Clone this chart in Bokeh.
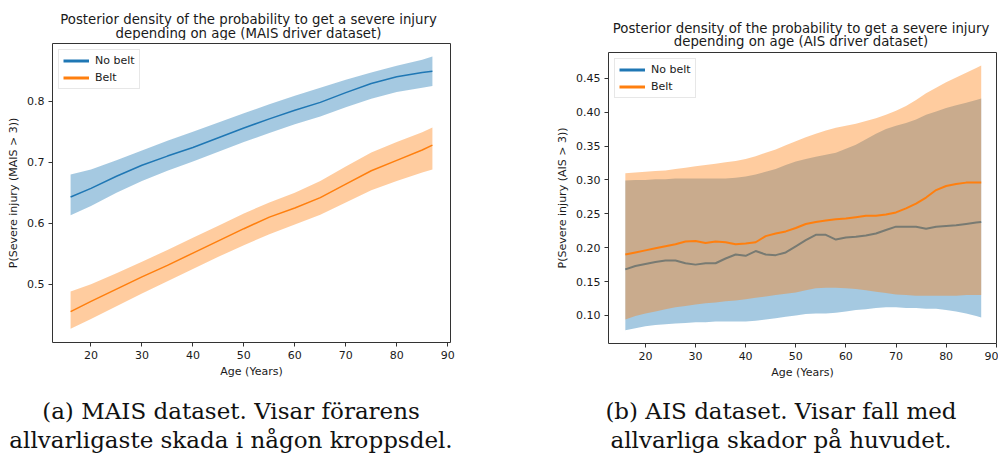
from bokeh.plotting import figure
from bokeh.models import Legend, LegendItem, FixedTicker, PrintfTickFormatter, Div
from bokeh.layouts import row, column
from bokeh.embed import file_html
from bokeh.resources import INLINE

BLUE = "#1f77b4"
ORANGE = "#ff7f0e"

# ---------------- data: MAIS dataset (left) ----------------
mais_age = [16, 20, 25, 30, 35, 40, 45, 50, 55, 60, 65, 70, 75, 80, 85, 87]
mais_nobelt_mean = [0.643, 0.657, 0.677, 0.695, 0.710, 0.724, 0.740, 0.756, 0.771, 0.785, 0.798, 0.814, 0.829, 0.840, 0.847, 0.849]
mais_nobelt_hi = [0.680, 0.688, 0.703, 0.719, 0.735, 0.750, 0.765, 0.780, 0.795, 0.809, 0.822, 0.835, 0.847, 0.858, 0.868, 0.873]
mais_nobelt_lo = [0.613, 0.628, 0.650, 0.669, 0.686, 0.701, 0.717, 0.733, 0.748, 0.762, 0.775, 0.790, 0.804, 0.815, 0.822, 0.825]
mais_belt_mean = [0.455, 0.472, 0.492, 0.512, 0.531, 0.551, 0.571, 0.591, 0.610, 0.625, 0.642, 0.664, 0.686, 0.703, 0.720, 0.728]
mais_belt_hi = [0.488, 0.500, 0.518, 0.537, 0.556, 0.576, 0.596, 0.616, 0.634, 0.650, 0.669, 0.693, 0.716, 0.733, 0.749, 0.757]
mais_belt_lo = [0.427, 0.443, 0.464, 0.485, 0.505, 0.525, 0.545, 0.564, 0.582, 0.598, 0.614, 0.634, 0.654, 0.669, 0.683, 0.688]

# ---------------- data: AIS dataset (right) ----------------
ais_age = [16, 18, 20, 22, 24, 26, 28, 30, 32, 34, 36, 38, 40, 42, 44, 46, 48, 50, 52, 54,
           56, 58, 60, 62, 64, 66, 68, 70, 72, 74, 76, 78, 80, 82, 84, 86, 87]
ais_nobelt_mean = [0.168, 0.173, 0.176, 0.179, 0.181, 0.181, 0.177, 0.175, 0.177, 0.177, 0.184, 0.190,
                   0.188, 0.195, 0.190, 0.189, 0.193, 0.202, 0.211, 0.219, 0.219, 0.212, 0.215, 0.216,
                   0.218, 0.221, 0.226, 0.231, 0.231, 0.231, 0.228, 0.231, 0.232, 0.233, 0.235, 0.237, 0.238]
ais_nobelt_hi = [0.299, 0.300, 0.300, 0.301, 0.301, 0.302, 0.302, 0.302, 0.302, 0.302, 0.302, 0.303,
                 0.305, 0.308, 0.312, 0.316, 0.322, 0.327, 0.331, 0.334, 0.337, 0.340, 0.346, 0.352,
                 0.360, 0.368, 0.375, 0.380, 0.384, 0.389, 0.396, 0.401, 0.406, 0.410, 0.414, 0.418, 0.420]
ais_nobelt_lo = [0.078, 0.081, 0.084, 0.086, 0.087, 0.088, 0.089, 0.090, 0.090, 0.091, 0.091, 0.091,
                 0.091, 0.092, 0.094, 0.096, 0.098, 0.100, 0.102, 0.103, 0.103, 0.104, 0.106, 0.108,
                 0.109, 0.111, 0.112, 0.112, 0.111, 0.111, 0.110, 0.110, 0.108, 0.106, 0.103, 0.099, 0.097]
ais_belt_mean = [0.190, 0.193, 0.196, 0.199, 0.202, 0.205, 0.209, 0.210, 0.207, 0.209, 0.208, 0.205,
                 0.206, 0.208, 0.217, 0.221, 0.224, 0.229, 0.235, 0.238, 0.240, 0.242, 0.243, 0.245,
                 0.247, 0.247, 0.249, 0.252, 0.258, 0.265, 0.274, 0.285, 0.291, 0.294, 0.296, 0.296, 0.296]
ais_belt_hi = [0.310, 0.311, 0.312, 0.313, 0.314, 0.316, 0.318, 0.320, 0.322, 0.324, 0.326, 0.328,
               0.331, 0.335, 0.340, 0.345, 0.351, 0.357, 0.363, 0.368, 0.373, 0.377, 0.380, 0.383,
               0.387, 0.391, 0.396, 0.402, 0.409, 0.418, 0.428, 0.436, 0.444, 0.451, 0.458, 0.465, 0.469]
ais_belt_lo = [0.094, 0.099, 0.103, 0.106, 0.109, 0.112, 0.114, 0.116, 0.118, 0.119, 0.121, 0.122,
               0.124, 0.126, 0.128, 0.130, 0.132, 0.134, 0.137, 0.140, 0.141, 0.141, 0.140, 0.139,
               0.137, 0.135, 0.133, 0.131, 0.130, 0.129, 0.129, 0.129, 0.129, 0.129, 0.130, 0.130, 0.130]

x_ticks = [20, 30, 40, 50, 60, 70, 80, 90]
mais_y_ticks = [0.5, 0.6, 0.7, 0.8]
ais_y_ticks = [0.10, 0.15, 0.20, 0.25, 0.30, 0.35, 0.40, 0.45]

title_line1 = "Posterior density of the probability to get a severe injury"
mais_title2 = "depending on age (MAIS driver dataset)"
ais_title2 = "depending on age (AIS driver dataset)"
mais_ylabel = "P(Severe injury (MAIS > 3))"
ais_ylabel = "P(Severe injury (AIS > 3))"
xlabel = "Age (Years)"
mais_caption = ["(a) MAIS dataset. Visar förarens", "allvarligaste skada i någon kroppsdel."]
ais_caption = ["(b) AIS dataset. Visar fall med", "allvarliga skador på huvudet."]
labels = ["No belt", "Belt"]

SANS = "DejaVu Sans"
SERIF = "DejaVu Serif"
TXT = "#1a1a1a"


def text_div(lines, height, font, size, lh, pad_top, pad_left, pad_right, color):
    html = "<br>".join(lines)
    style = (f"box-sizing:border-box;width:499px;height:{height}px;overflow:hidden;"
             f"padding:{pad_top}px {pad_right}px 0 {pad_left}px;margin:0;"
             f"font-family:'{font}';font-size:{size}px;line-height:{lh}px;"
             f"color:{color};text-align:center;white-space:nowrap;")
    return Div(text=f'<div style="{style}">{html}</div>', width=499, height=height,
               margin=0)


def make_plot(age, nb_mean, nb_lo, nb_hi, b_mean, b_lo, b_hi, xr, yr, yticks, yfmt,
              ylabel, left, right, frame_h, lw):
    p = figure(width=499, height=3 + frame_h + 40, x_range=xr, y_range=yr,
               output_backend="svg", toolbar_location=None,
               min_border_left=left, min_border_right=right,
               min_border_top=3, min_border_bottom=40)

    p.varea(x=age, y1=nb_lo, y2=nb_hi, fill_color=BLUE, fill_alpha=0.4)
    p.line(age, nb_mean, line_color=BLUE, line_width=lw)
    p.varea(x=age, y1=b_lo, y2=b_hi, fill_color=ORANGE, fill_alpha=0.4)
    p.line(age, b_mean, line_color=ORANGE, line_width=lw)

    # legend proxies (thicker lines, a single point so nothing shows on the plot)
    r1 = p.line(age[:1], nb_mean[:1], line_color=BLUE, line_width=3)
    r2 = p.line(age[:1], b_mean[:1], line_color=ORANGE, line_width=3)
    leg = Legend(items=[LegendItem(label=labels[0], renderers=[r1]),
                        LegendItem(label=labels[1], renderers=[r2])],
                 location="top_left", margin=6, padding=4, spacing=4,
                 glyph_width=26, glyph_height=13, label_height=13,
                 label_standoff=6, label_text_font=SANS,
                 label_text_font_size="11px", label_text_color=TXT,
                 border_line_color="#d0d0d0", border_line_width=1,
                 background_fill_alpha=0.8)
    p.add_layout(leg, "center")

    p.grid.visible = False
    p.outline_line_color = "#333333"
    p.outline_line_width = 1
    p.background_fill_color = "white"
    p.border_fill_color = "white"

    for ax in (p.xaxis, p.yaxis):
        ax.axis_line_color = None
        ax.major_tick_line_color = "#333333"
        ax.major_tick_out = 4
        ax.major_tick_in = 0
        ax.minor_tick_line_color = None
        ax.major_label_text_font = SANS
        ax.major_label_text_font_size = "11px"
        ax.major_label_text_color = TXT
        ax.axis_label_text_font = SANS
        ax.axis_label_text_font_size = "11px"
        ax.axis_label_text_font_style = "normal"
        ax.axis_label_text_color = TXT
    p.xaxis.ticker = FixedTicker(ticks=x_ticks)
    p.yaxis.ticker = FixedTicker(ticks=yticks)
    p.yaxis.formatter = PrintfTickFormatter(format=yfmt)
    p.xaxis.axis_label = xlabel
    p.yaxis.axis_label = ylabel
    p.xaxis.major_label_standoff = 4
    p.yaxis.major_label_standoff = 4
    p.xaxis.axis_label_standoff = 3
    p.yaxis.axis_label_standoff = 4
    return p


# left panel: frame 43..342
t1 = text_div([title_line1, mais_title2], 40, SANS, 13.3, 13.8, 13.4, 0, 2, TXT)
p1 = make_plot(mais_age, mais_nobelt_mean, mais_nobelt_lo, mais_nobelt_hi,
               mais_belt_mean, mais_belt_lo, mais_belt_hi,
               (12.45, 90.55), (0.4045, 0.8945), mais_y_ticks, "%.1f",
               mais_ylabel, 52, 49, 299, 1.5)
c1 = text_div(mais_caption, 454 - 382, SERIF, 23, 29, 15.4, 0, 37, "#111111")

# right panel: frame 52..343
t2 = text_div([title_line1, ais_title2], 49, SANS, 13.3, 13.8, 21.6, 105, 0, TXT)
p2 = make_plot(ais_age, ais_nobelt_mean, ais_nobelt_lo, ais_nobelt_hi,
               ais_belt_mean, ais_belt_lo, ais_belt_hi,
               (12.64, 90.05), (0.0586, 0.488), ais_y_ticks, "%.2f",
               ais_ylabel, 109, 2, 291, 2)
c2 = text_div(ais_caption, 454 - 383, SERIF, 23, 29, 13.6, 65, 0, "#111111")

layout = row(column(t1, p1, c1, spacing=0), column(t2, p2, c2, spacing=0), spacing=0)
open("out.html", "w").write(file_html(layout, INLINE))
